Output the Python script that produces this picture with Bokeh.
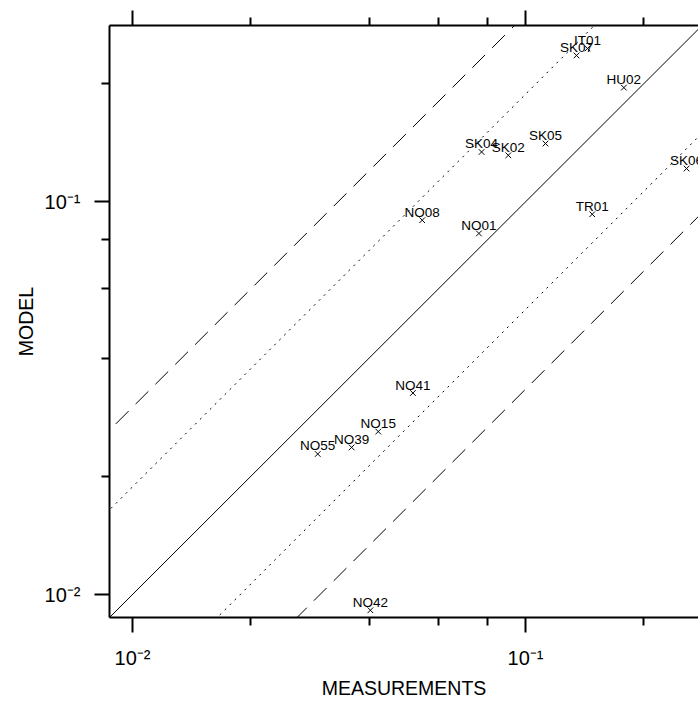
from bokeh.plotting import figure
from bokeh.models import ColumnDataSource, FixedTicker, LogAxis
from bokeh.core.properties import value
from bokeh.embed import file_html
from bokeh.resources import INLINE

# ---- data ----
stations = ["IT01", "SK07", "HU02", "SK04", "SK02", "SK05", "SK06", "NO08",
            "NO01", "TR01", "NO41", "NO15", "NO39", "NO55", "NO42"]
measurements = [0.1438, 0.1348, 0.1779, 0.0773, 0.0904, 0.1124, 0.2569, 0.0546,
                0.0761, 0.1478, 0.0517, 0.0422, 0.0361, 0.0296, 0.0403]
model = [0.2459, 0.2360, 0.1954, 0.1340, 0.1314, 0.1408, 0.1216, 0.0898,
         0.0831, 0.0930, 0.0326, 0.0260, 0.0237, 0.0228, 0.00912]

major_ticks = [0.01, 0.1]
major_labels = ["10\u207b\u00b2", "10\u207b\u00b9"]
minor_ticks = [0.02, 0.04, 0.06, 0.08, 0.2]

x_limits = (0.00874, 0.2755)
y_limits = (0.00874, 0.2813)

# reference lines y = factor * x
solid_factors = [1.0]
dotted_factors = [1.88, 1.0 / 1.88]
dashed_factors = [3.0, 1.0 / 3.0]
line_span = [0.001, 1.0]

FONT = "Liberation Sans"

p = figure(width=698, height=701, x_axis_type="log", y_axis_type="log",
           x_range=x_limits, y_range=y_limits,
           output_backend="svg", toolbar_location=None,
           min_border_left=109, min_border_right=0, min_border_top=25,
           min_border_bottom=0)
p.outline_line_color = None
p.grid.visible = False
p.background_fill_color = "white"
p.border_fill_color = "white"

overrides = dict(zip(major_ticks, major_labels))

def style_axis(ax, label):
    ax.ticker = FixedTicker(ticks=major_ticks, minor_ticks=minor_ticks)
    ax.major_label_overrides = overrides
    ax.axis_label = label
    ax.axis_label_text_font = FONT
    ax.axis_label_text_font_style = "normal"
    ax.axis_label_text_font_size = "19.5px"
    ax.axis_label_text_color = "black"
    ax.major_label_text_font = FONT
    ax.major_label_text_font_size = "20px"
    ax.major_label_text_color = "black"
    ax.axis_line_width = 2
    ax.axis_line_color = "black"
    ax.major_tick_line_width = 2
    ax.minor_tick_line_width = 2
    ax.major_tick_line_color = "black"
    ax.minor_tick_line_color = "black"
    ax.major_tick_out = 15
    ax.major_tick_in = 0
    ax.minor_tick_out = 8
    ax.minor_tick_in = 0

style_axis(p.xaxis[0], "MEASUREMENTS")
style_axis(p.yaxis[0], "MODEL")
p.xaxis[0].major_label_standoff = 14
p.xaxis[0].axis_label_standoff = 5
p.yaxis[0].major_label_standoff = 14
p.yaxis[0].axis_label_standoff = 5
p.yaxis[0].major_label_orientation = "horizontal"

top = LogAxis()
style_axis(top, None)
top.major_label_overrides = {t: "" for t in major_ticks}
top.major_label_standoff = 0
top.major_label_text_font_size = "1px"
p.add_layout(top, "above")

for f in solid_factors:
    p.line(line_span, [f * v for v in line_span], line_color="black", line_width=1)
for f in dotted_factors:
    p.line(line_span, [f * v for v in line_span], line_color="black", line_width=1,
           line_dash="2 5")
for f in dashed_factors:
    p.line(line_span, [f * v for v in line_span], line_color="black", line_width=1,
           line_dash="18 10")

src = ColumnDataSource(dict(x=measurements, y=model, name=stations))
p.scatter("x", "y", source=src, marker="x", size=8, line_color="black", line_width=1)
p.text("x", "y", text="name", source=src, text_align="center",
       text_baseline="alphabetic", y_offset=-8, text_color="black",
       text_font=value(FONT), text_font_size="13.5px")

open("out.html", "w").write(file_html(p, INLINE))
